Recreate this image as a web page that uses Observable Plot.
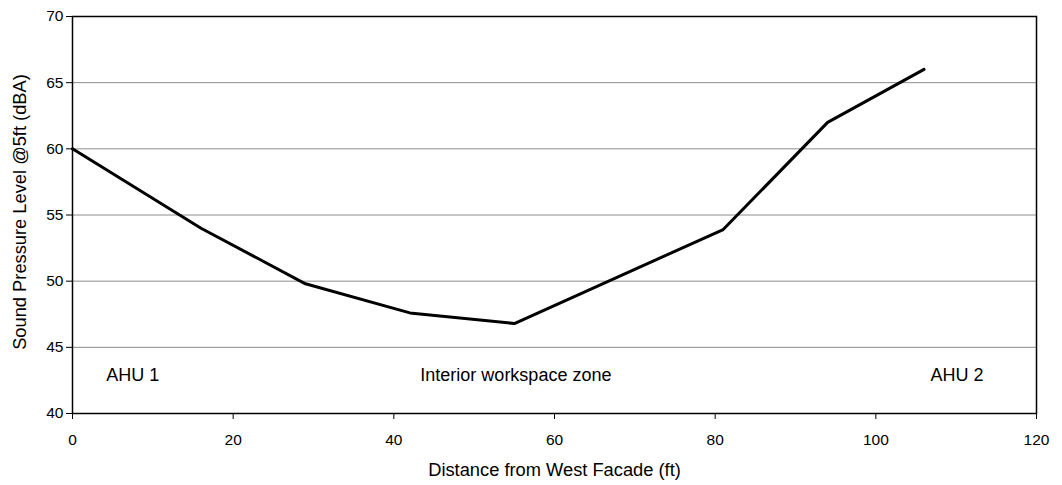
<!DOCTYPE html>
<html><head><meta charset="utf-8">
<script src="https://cdn.jsdelivr.net/npm/d3@7"></script>
<script src="https://cdn.jsdelivr.net/npm/@observablehq/plot@0.6"></script>
<style>body{margin:0;background:#fff;font-family:"Liberation Sans",Arial,sans-serif;}</style>
</head><body><div id="chart"></div>
<script>
const distance = [0, 16, 29, 42, 55, 81, 94, 106];
const level = [60, 54, 49.8, 47.6, 46.8, 53.9, 62, 66];
const xTicks = [0, 20, 40, 60, 80, 100, 120];
const yTicks = [40, 45, 50, 55, 60, 65, 70];
const noteText = ["AHU 1", "Interior workspace zone", "AHU 2"];
const noteX = [4.2, 43.3, 106.8];
const noteY = [42.9, 42.9, 42.9];
const xLabel = "Distance from West Facade (ft)";
const yLabel = "Sound Pressure Level @5ft (dBA)";

const pts = distance.map((d, i) => ({x: d, y: level[i]}));
const notes = noteText.map((t, i) => ({t, x: noteX[i], y: noteY[i]}));

const chart = Plot.plot({
  width: 1062, height: 485,
  marginLeft: 72, marginRight: 26, marginTop: 16, marginBottom: 72,
  style: {fontFamily: '"Liberation Sans", Arial, sans-serif', fontSize: "15px", color: "#000", background: "#fff"},
  x: {domain: [0, 120], ticks: xTicks, label: null},
  y: {domain: [40, 70], ticks: yTicks, label: null},
  marks: [
    Plot.gridY(yTicks.slice(1, -1), {stroke: "#8c8c8c", strokeOpacity: 1, strokeWidth: 1}),
    Plot.line(pts, {x: "x", y: "y", stroke: "#000", strokeWidth: 3, strokeLinejoin: "miter"}),
    Plot.text(notes, {x: "x", y: "y", text: "t", textAnchor: "start", fontSize: 18, fill: "#000"}),
    Plot.frame({stroke: "#000", strokeWidth: 1.5}),
    Plot.axisX({ticks: xTicks, tickSize: 6, tickPadding: 14, fontSize: 15.5, label: null}),
    Plot.axisY({ticks: yTicks, tickSize: 6, tickPadding: 3, fontSize: 15.5, label: null}),
    Plot.text([xLabel], {text: d => d, frameAnchor: "bottom", textAnchor: "middle", lineAnchor: "middle", dy: 57, fontSize: 18.3, fill: "#000"}),
    Plot.text([yLabel], {text: d => d, frameAnchor: "left", textAnchor: "middle", lineAnchor: "middle", rotate: -90, dx: -52, dy: -3, fontSize: 18.3, fill: "#000"})
  ]
});
document.getElementById("chart").appendChild(chart);
</script></body></html>
